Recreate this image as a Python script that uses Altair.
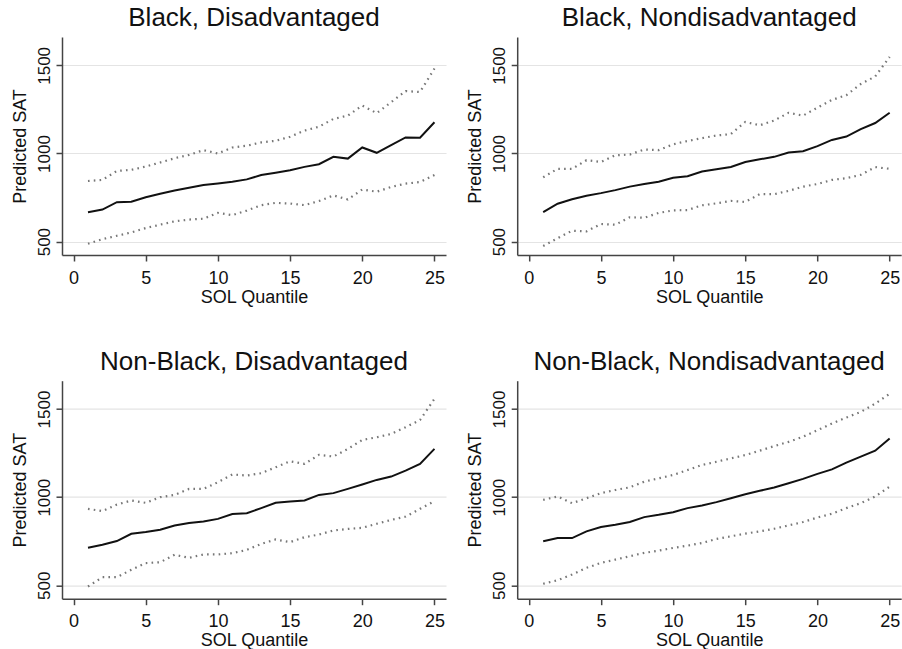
import altair as alt
import pandas as pd

quantile = list(range(1, 26))
titles = ["Black, Disadvantaged", "Black, Nondisadvantaged",
          "Non-Black, Disadvantaged", "Non-Black, Nondisadvantaged"]

# Black, Disadvantaged
bd_pred = [667, 682, 724, 726, 752, 771, 790, 806, 821, 830, 840, 853, 878,
           891, 905, 924, 939, 981, 971, 1034, 1004, 1048, 1091, 1090, 1177]
bd_upper = [844, 850, 901, 907, 926, 949, 973, 992, 1019, 1000, 1034, 1044, 1063,
            1072, 1095, 1130, 1152, 1196, 1215, 1272, 1229, 1291, 1354, 1349, 1482]
bd_lower = [488, 514, 533, 552, 577, 596, 615, 625, 630, 663, 650, 676, 707,
            720, 716, 707, 730, 762, 739, 796, 783, 810, 829, 838, 878]

# Black, Nondisadvantaged
bn_pred = [667, 715, 740, 760, 775, 792, 812, 827, 840, 862, 871, 898, 910,
           923, 952, 967, 981, 1006, 1013, 1042, 1077, 1096, 1138, 1173, 1231]
bn_upper = [865, 913, 913, 962, 952, 990, 994, 1023, 1019, 1052, 1071, 1087, 1102,
            1110, 1179, 1160, 1187, 1231, 1215, 1260, 1304, 1331, 1394, 1437, 1548]
bn_lower = [475, 519, 562, 558, 600, 596, 638, 635, 663, 677, 679, 706, 717,
            731, 725, 769, 769, 788, 812, 827, 850, 860, 879, 923, 913]

# Non-Black, Disadvantaged
nd_pred = [713, 730, 751, 792, 802, 815, 839, 853, 862, 877, 905, 909, 938,
           968, 975, 981, 1013, 1023, 1047, 1072, 1098, 1117, 1151, 1189, 1274]
nd_upper = [934, 921, 958, 981, 968, 1000, 1013, 1047, 1047, 1085, 1129, 1123, 1136,
            1170, 1204, 1189, 1240, 1231, 1274, 1325, 1340, 1359, 1397, 1438, 1558]
nd_lower = [493, 546, 546, 588, 626, 631, 673, 656, 675, 675, 682, 701, 735,
            760, 745, 773, 788, 811, 820, 826, 849, 871, 890, 934, 977]

# Non-Black, Nondisadvantaged
nn_pred = [750, 768, 768, 806, 831, 844, 859, 887, 900, 915, 938, 953, 972,
           994, 1017, 1036, 1055, 1079, 1104, 1132, 1158, 1196, 1230, 1264, 1333]
nn_upper = [985, 1004, 966, 994, 1023, 1041, 1056, 1088, 1107, 1126, 1154, 1183, 1201,
            1220, 1239, 1264, 1290, 1314, 1343, 1380, 1418, 1452, 1484, 1531, 1587]
nn_lower = [509, 529, 561, 599, 627, 646, 665, 684, 697, 712, 725, 740, 763,
            778, 793, 806, 821, 840, 859, 885, 906, 938, 966, 1004, 1060]

x_ticks = [0, 5, 10, 15, 20, 25]
y_ticks = [500, 1000, 1500]

FONT = "Liberation Sans"


def panel(title, pred, upper, lower):
    df = pd.DataFrame({
        "q": quantile * 3,
        "v": pred + upper + lower,
        "s": ["pred"] * 25 + ["upper"] * 25 + ["lower"] * 25,
    })
    x = alt.X("q:Q",
              scale=alt.Scale(domain=[-0.8, 25.8], nice=False, zero=False),
              axis=alt.Axis(values=x_ticks, title="SOL Quantile", grid=False,
                            format="d",
                            tickSize=6, labelPadding=8, titlePadding=1,
                            labelFontSize=18, titleFontSize=18,
                            labelFont=FONT, titleFont=FONT,
                            titleFontWeight="normal", labelColor="#111",
                            titleColor="#111", domainColor="#444",
                            tickColor="#444", domainWidth=1.5, tickWidth=1.5,
                            labelFlush=False))
    y = alt.Y("v:Q",
              scale=alt.Scale(domain=[424, 1661], nice=False, zero=False),
              axis=alt.Axis(values=y_ticks, title="Predicted SAT", grid=True,
                            format="d",
                            gridColor="#e4e4e4", gridWidth=1.2,
                            tickSize=6, labelPadding=7, titlePadding=6,
                            labelAngle=270, labelAlign="center",
                            labelBaseline="alphabetic",
                            labelFontSize=17, titleFontSize=18,
                            labelFont=FONT, titleFont=FONT,
                            titleFontWeight="normal", labelColor="#111",
                            titleColor="#111", domainColor="#444",
                            tickColor="#444", domainWidth=1.5, tickWidth=1.5,
                            labelFlush=False))
    base = alt.Chart(df)
    solid = base.transform_filter(alt.datum.s == "pred").mark_line(
        color="#111", strokeWidth=2).encode(x=x, y=y)
    dotted = base.transform_filter(alt.datum.s != "pred").mark_line(
        color="#777", strokeWidth=2.2, strokeDash=[1.6, 4.2]).encode(
        x=x, y=y, detail="s:N")
    return alt.layer(solid, dotted).properties(
        width=384, height=218,
        title=alt.TitleParams(title, fontSize=26, font=FONT,
                              fontWeight="normal", color="#111",
                              anchor="middle", frame="group",
                              baseline="alphabetic", offset=-15))


p1 = panel(titles[0], bd_pred, bd_upper, bd_lower)
p2 = panel(titles[1], bn_pred, bn_upper, bn_lower)
p3 = panel(titles[2], nd_pred, nd_upper, nd_lower)
p4 = panel(titles[3], nn_pred, nn_upper, nn_lower)

chart = alt.concat(p1, p2, p3, p4, columns=2, spacing=alt.RowColnumber(row=125.7, column=71.2),
                   bounds="flush").properties(
    padding={"left": 10, "top": 5, "right": 0, "bottom": 0},
    background="white"
).configure_view(stroke=None)

chart.save("out.html", embed_options={"renderer": "svg", "actions": False})
